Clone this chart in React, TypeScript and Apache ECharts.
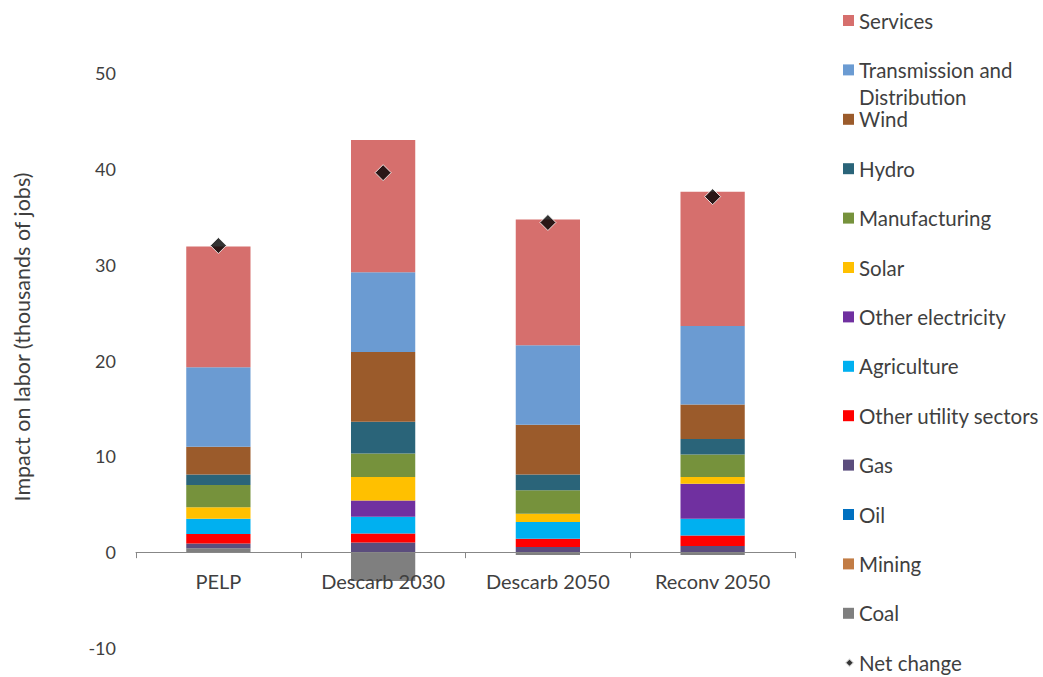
import React, { useEffect, useRef } from "react";
import * as echarts from "echarts";

const categories = ["PELP", "Descarb 2030", "Descarb 2050", "Reconv 2050"];

// Stack components (thousands of jobs), bottom to top
const coal = [0.4, -3.0, -0.3, -0.3];
const mining = [0, 0, 0, 0];
const oil = [0, 0, 0, 0];
const gas = [0.5, 1.0, 0.55, 0.65];
const otherUtility = [1.0, 0.95, 0.85, 1.1];
const agriculture = [1.6, 1.75, 1.75, 1.75];
const otherElectricity = [0, 1.7, 0, 3.65];
const solar = [1.2, 2.45, 0.85, 0.7];
const manufacturing = [2.3, 2.45, 2.45, 2.35];
const hydro = [1.1, 3.3, 1.65, 1.6];
const wind = [2.9, 7.3, 5.2, 3.6];
const transmission = [8.3, 8.3, 8.3, 8.2];
const services = [12.6, 13.8, 13.1, 14.0];
const netChange = [32.0, 39.6, 34.4, 37.1];

const yMin = -10;
const yMax = 50;
const yStep = 10;

const TD = "Transmission and Distribution";

const stackSeries = [
  { name: "Coal", data: coal, color: "#7f7f7f" },
  { name: "Mining", data: mining, color: "#c27c45" },
  { name: "Oil", data: oil, color: "#0070c0" },
  { name: "Gas", data: gas, color: "#5b4d7d" },
  { name: "Other utility sectors", data: otherUtility, color: "#ff0000" },
  { name: "Agriculture", data: agriculture, color: "#00b0f0" },
  { name: "Other electricity", data: otherElectricity, color: "#7030a0" },
  { name: "Solar", data: solar, color: "#ffc000" },
  { name: "Manufacturing", data: manufacturing, color: "#76923c" },
  { name: "Hydro", data: hydro, color: "#2a6479" },
  { name: "Wind", data: wind, color: "#9b5b2b" },
  { name: TD, data: transmission, color: "#6b9bd2" },
  { name: "Services", data: services, color: "#d66f6d" },
];

const legendOrder = [
  "Services", TD, "Wind", "Hydro", "Manufacturing", "Solar", "Other electricity",
  "Agriculture", "Other utility sectors", "Gas", "Oil", "Mining", "Coal", "Net change",
];

const FONT = "Lato, 'Open Sans', sans-serif";
const TEXT = "#3f3f3f";

export default function App() {
  const ref = useRef<HTMLDivElement>(null);
  useEffect(() => {
    if (!ref.current) return;
    const chart = echarts.init(ref.current, undefined, { renderer: "svg" });

    const legendTop0 = 21;
    const legendStep = 49.4;
    const legends = legendOrder.map((name, i) => {
      const center = legendTop0 + i * legendStep;
      const isTD = name === TD;
      const isNet = name === "Net change";
      return {
        show: true,
        orient: "vertical",
        left: isNet ? 844 : 843,
        top: isTD ? center - 40.5 - 0.5 : center - 10.5 - 0.5,
        padding: 0,
        itemGap: 0,
        itemWidth: isNet ? 9 : 11,
        itemHeight: isNet ? 9 : 11,
        selectedMode: false,
        formatter: (n: string) => (n === TD ? "\nTransmission and\nDistribution" : n),
        data: [
          isTD
            ? { name, icon: "rect", textStyle: { lineHeight: 27 } }
            : { name, icon: isNet ? "diamond" : "rect" },
        ],
        textStyle: { fontFamily: FONT, fontSize: 20.5, color: TEXT, lineHeight: 21 },
      };
    });

    const series: any[] = stackSeries.map((s) => ({
      name: s.name,
      type: "bar",
      stack: "total",
      data: s.data,
      barWidth: "39%",
      itemStyle: { color: s.color },
    }));
    series.push({
      name: "Net change",
      type: "scatter",
      data: netChange,
      symbol: "diamond",
      symbolSize: 16,
      z: 5,
      itemStyle: { color: "#000000", borderColor: "#ffffff", borderWidth: 1 },
    });

    chart.setOption({
      animation: false,
      backgroundColor: "#ffffff",
      grid: { left: 136, right: 248, top: 73, bottom: 29, outerBoundsMode: "none", containLabel: false },
      legend: legends,
      xAxis: {
        type: "category",
        data: categories,
        axisLine: { show: true, onZero: true, lineStyle: { color: "#878787", width: 1 } },
        axisTick: { show: true, length: 6, lineStyle: { color: "#878787" } },
        axisLabel: { margin: -77, fontFamily: FONT, fontSize: 20, color: TEXT },
        z: 10,
      },
      yAxis: {
        type: "value",
        min: yMin,
        max: yMax,
        interval: yStep,
        axisLine: { show: false },
        axisTick: { show: false },
        splitLine: { show: false },
        axisLabel: { margin: 20, fontFamily: FONT, fontSize: 18, color: TEXT },
      },
      graphic: [
        {
          type: "text",
          x: 22,
          y: 337,
          rotation: Math.PI / 2,
          style: {
            text: "Impact on labor (thousands of jobs)",
            font: `21.5px ${FONT}`,
            fill: TEXT,
            align: "center",
            verticalAlign: "middle",
          },
        },
      ],
      series,
    });
    return () => chart.dispose();
  }, []);
  return (
    <div
      ref={ref}
      style={{ position: "fixed", left: 0, top: 0, width: 1043, height: 677, background: "#fff" }}
    />
  );
}
